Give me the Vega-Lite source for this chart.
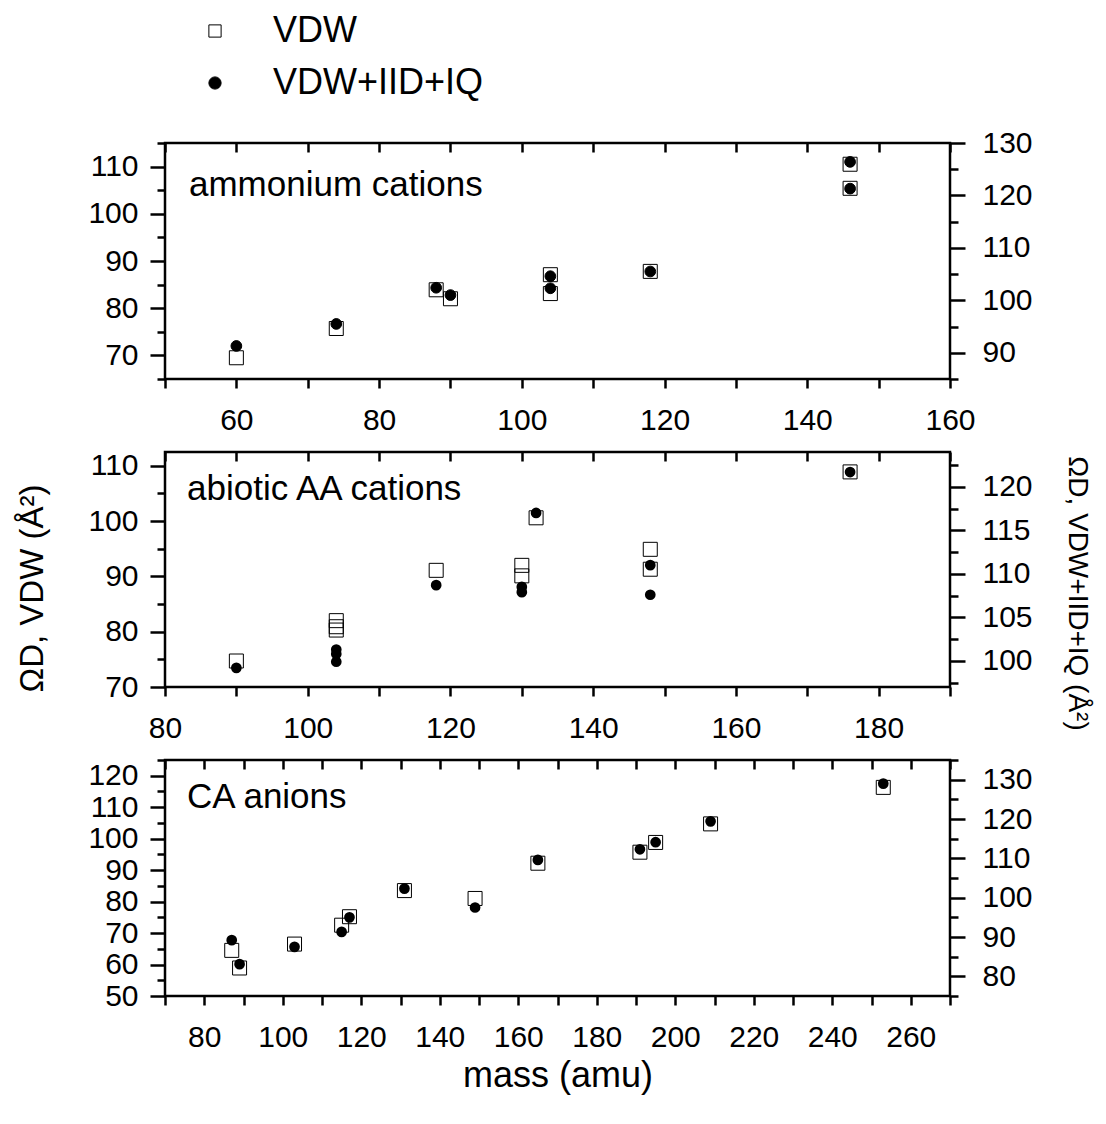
{
  "$schema": "https://vega.github.io/schema/vega-lite/v6.json",
  "background": "white",
  "autosize": {"type": "pad"},
  "padding": {"left": 15, "top": 13, "right": 10, "bottom": 10},
  "datasets": {
    "p1": [
      {"mass": 60, "series": "VDW", "omega": 69.5},
      {"mass": 74, "series": "VDW", "omega": 75.7},
      {"mass": 88, "series": "VDW", "omega": 83.9},
      {"mass": 90, "series": "VDW", "omega": 82.0},
      {"mass": 104, "series": "VDW", "omega": 87.1},
      {"mass": 104, "series": "VDW", "omega": 83.1},
      {"mass": 118, "series": "VDW", "omega": 87.8},
      {"mass": 146, "series": "VDW", "omega": 110.5},
      {"mass": 146, "series": "VDW", "omega": 105.4},
      {"mass": 60, "series": "VDW+IID+IQ", "omega": 91.3},
      {"mass": 74, "series": "VDW+IID+IQ", "omega": 95.5},
      {"mass": 88, "series": "VDW+IID+IQ", "omega": 102.4},
      {"mass": 90, "series": "VDW+IID+IQ", "omega": 101.0},
      {"mass": 104, "series": "VDW+IID+IQ", "omega": 104.6},
      {"mass": 104, "series": "VDW+IID+IQ", "omega": 102.3},
      {"mass": 118, "series": "VDW+IID+IQ", "omega": 105.5},
      {"mass": 146, "series": "VDW+IID+IQ", "omega": 126.4},
      {"mass": 146, "series": "VDW+IID+IQ", "omega": 121.3}
    ],
    "p2": [
      {"mass": 90, "series": "VDW", "omega": 74.7},
      {"mass": 104, "series": "VDW", "omega": 82.0},
      {"mass": 104, "series": "VDW", "omega": 80.9},
      {"mass": 104, "series": "VDW", "omega": 80.3},
      {"mass": 118, "series": "VDW", "omega": 91.1},
      {"mass": 130, "series": "VDW", "omega": 92.0},
      {"mass": 130, "series": "VDW", "omega": 90.1},
      {"mass": 132, "series": "VDW", "omega": 100.6},
      {"mass": 148, "series": "VDW", "omega": 94.9},
      {"mass": 148, "series": "VDW", "omega": 91.3},
      {"mass": 176, "series": "VDW", "omega": 108.9},
      {"mass": 90, "series": "VDW+IID+IQ", "omega": 99.2},
      {"mass": 104, "series": "VDW+IID+IQ", "omega": 101.3},
      {"mass": 104, "series": "VDW+IID+IQ", "omega": 100.8},
      {"mass": 104, "series": "VDW+IID+IQ", "omega": 99.9},
      {"mass": 118, "series": "VDW+IID+IQ", "omega": 108.7},
      {"mass": 130, "series": "VDW+IID+IQ", "omega": 108.5},
      {"mass": 130, "series": "VDW+IID+IQ", "omega": 107.9},
      {"mass": 132, "series": "VDW+IID+IQ", "omega": 117.0},
      {"mass": 148, "series": "VDW+IID+IQ", "omega": 111.0},
      {"mass": 148, "series": "VDW+IID+IQ", "omega": 107.6},
      {"mass": 176, "series": "VDW+IID+IQ", "omega": 121.7}
    ],
    "p3": [
      {"mass": 87, "series": "VDW", "omega": 64.5},
      {"mass": 89, "series": "VDW", "omega": 58.9},
      {"mass": 103, "series": "VDW", "omega": 66.5},
      {"mass": 115, "series": "VDW", "omega": 72.5},
      {"mass": 117, "series": "VDW", "omega": 75.2},
      {"mass": 131, "series": "VDW", "omega": 83.5},
      {"mass": 149, "series": "VDW", "omega": 81.0},
      {"mass": 165, "series": "VDW", "omega": 92.2},
      {"mass": 191, "series": "VDW", "omega": 95.7},
      {"mass": 195, "series": "VDW", "omega": 98.8},
      {"mass": 209, "series": "VDW", "omega": 104.7},
      {"mass": 253, "series": "VDW", "omega": 116.3},
      {"mass": 87, "series": "VDW+IID+IQ", "omega": 89.2},
      {"mass": 89, "series": "VDW+IID+IQ", "omega": 83.1},
      {"mass": 103, "series": "VDW+IID+IQ", "omega": 87.5},
      {"mass": 115, "series": "VDW+IID+IQ", "omega": 91.3},
      {"mass": 117, "series": "VDW+IID+IQ", "omega": 95.0},
      {"mass": 131, "series": "VDW+IID+IQ", "omega": 102.3},
      {"mass": 149, "series": "VDW+IID+IQ", "omega": 97.5},
      {"mass": 165, "series": "VDW+IID+IQ", "omega": 109.6},
      {"mass": 191, "series": "VDW+IID+IQ", "omega": 112.3},
      {"mass": 195, "series": "VDW+IID+IQ", "omega": 114.1},
      {"mass": 209, "series": "VDW+IID+IQ", "omega": 119.4},
      {"mass": 253, "series": "VDW+IID+IQ", "omega": 129.0}
    ]
  },
  "config": {
    "font": "Liberation Sans",
    "view": {"stroke": "black", "strokeWidth": 2.5},
    "axis": {
      "domain": false,
      "grid": false,
      "labelFont": "Liberation Sans",
      "labelFontSize": 30,
      "labelColor": "black",
      "tickColor": "black",
      "tickWidth": 2.5,
      "titleFont": "Liberation Sans",
      "titleFontWeight": "normal",
      "titleColor": "black",
      "labelFlush": false,
      "labelOverlap": false
    },
    "axisLeft": {"labelPadding": 12},
    "axisRight": {"labelPadding": 17},
    "axisBottom": {"labelPadding": 17},
    "legend": {
      "orient": "none",
      "legendX": 32,
      "legendY": -130,
      "padding": 0,
      "labelFont": "Liberation Sans",
      "labelFontSize": 36,
      "labelColor": "black",
      "labelLimit": 500,
      "labelOffset": 40,
      "rowPadding": 16,
      "symbolSize": 150,
      "symbolStrokeWidth": 1
    },
    "title": {"font": "Liberation Sans", "fontWeight": "normal", "color": "black", "fontSize": 35, "anchor": "start", "frame": "group"}
  },
  "spacing": 73,
  "bounds": "flush",
  "vconcat": [
    {
      "width": 785,
      "height": 236,
      "title": {"text": "ammonium cations", "offset": -75, "dx": 24},
      "resolve": {"scale": {"x": "independent", "y": "independent"}},
      "layer": [
        {
          "data": {"name": "p1"},
          "transform": [{"filter": "datum.series === 'VDW'"}],
          "mark": {"type": "point", "strokeWidth": 1, "size": 196, "opacity": 1},
          "encoding": {
            "x": {"field": "mass", "type": "quantitative", "scale": {"domain": [50, 160], "nice": false},
              "axis": {"orient": "bottom", "title": null, "values": [50,60,70,80,90,100,110,120,130,140,150,160],
                "labelExpr": "datum.value % 20 === 0 ? datum.label : ''", "tickSize": 9}},
            "y": {"field": "omega", "type": "quantitative", "scale": {"domain": [65, 115], "nice": false, "zero": false},
              "axis": {"orient": "left", "title": null, "values": [65,70,75,80,85,90,95,100,105,110,115],
                "labelExpr": "datum.value % 10 === 0 ? datum.label : ''",
                "tickSize": {"condition": {"test": "datum.value % 10 === 0", "value": 15}, "value": 8}}},
            "shape": {"field": "series", "type": "nominal", "scale": {"domain": ["VDW", "VDW+IID+IQ"], "range": ["square", "circle"]}, "legend": {"title": null}},
            "fill": {"field": "series", "type": "nominal", "scale": {"domain": ["VDW", "VDW+IID+IQ"], "range": ["transparent", "black"]}, "legend": {"title": null}},
            "stroke": {"field": "series", "type": "nominal", "scale": {"domain": ["VDW", "VDW+IID+IQ"], "range": ["black", "black"]}, "legend": {"title": null}}
          }
        },
        {
          "data": {"name": "p1"},
          "transform": [{"filter": "datum.series === 'VDW+IID+IQ'"}],
          "mark": {"type": "point", "strokeWidth": 1, "size": 115, "opacity": 1},
          "encoding": {
            "x": {"field": "mass", "type": "quantitative", "scale": {"domain": [50, 160], "nice": false},
              "axis": {"orient": "top", "title": null, "values": [50,60,70,80,90,100,110,120,130,140,150,160],
                "labels": false, "tickSize": -9}},
            "y": {"field": "omega", "type": "quantitative", "scale": {"domain": [85, 130], "nice": false, "zero": false},
              "axis": {"orient": "right", "title": null, "values": [85,90,95,100,105,110,115,120,125,130],
                "labelExpr": "datum.value % 10 === 0 ? datum.label : ''",
                "tickSize": {"condition": {"test": "datum.value % 10 === 0", "value": 15}, "value": 8}}},
            "shape": {"field": "series", "type": "nominal", "scale": {"domain": ["VDW", "VDW+IID+IQ"], "range": ["square", "circle"]}, "legend": {"title": null}},
            "fill": {"field": "series", "type": "nominal", "scale": {"domain": ["VDW", "VDW+IID+IQ"], "range": ["transparent", "black"]}, "legend": {"title": null}},
            "stroke": {"field": "series", "type": "nominal", "scale": {"domain": ["VDW", "VDW+IID+IQ"], "range": ["black", "black"]}, "legend": {"title": null}}
          }
        }
      ]
    },
    {
      "width": 785,
      "height": 235,
      "title": {"text": "abiotic AA cations", "offset": -57, "dx": 22},
      "resolve": {"scale": {"x": "independent", "y": "independent"}},
      "layer": [
        {
          "data": {"name": "p2"},
          "transform": [{"filter": "datum.series === 'VDW'"}],
          "mark": {"type": "point", "shape": "square", "filled": false, "stroke": "black", "strokeWidth": 1, "size": 196, "opacity": 1},
          "encoding": {
            "x": {"field": "mass", "type": "quantitative", "scale": {"domain": [80, 190], "nice": false},
              "axis": {"orient": "bottom", "title": null, "values": [80,90,100,110,120,130,140,150,160,170,180,190],
                "labelExpr": "datum.value % 20 === 0 ? datum.label : ''", "tickSize": 9}},
            "y": {"field": "omega", "type": "quantitative", "scale": {"domain": [70, 112.5], "nice": false, "zero": false},
              "axis": {"orient": "left", "title": "ΩD, VDW (Å²)", "titleFontSize": 33, "titlePadding": 38, "titleY": 136,
                "values": [70,75,80,85,90,95,100,105,110],
                "labelExpr": "datum.value % 10 === 0 ? datum.label : ''",
                "tickSize": {"condition": {"test": "datum.value % 10 === 0", "value": 15}, "value": 8}}}
          }
        },
        {
          "data": {"name": "p2"},
          "transform": [{"filter": "datum.series === 'VDW+IID+IQ'"}],
          "mark": {"type": "point", "shape": "circle", "filled": true, "color": "black", "size": 115, "opacity": 1},
          "encoding": {
            "x": {"field": "mass", "type": "quantitative", "scale": {"domain": [80, 190], "nice": false},
              "axis": {"orient": "top", "title": null, "values": [80,90,100,110,120,130,140,150,160,170,180,190],
                "labels": false, "tickSize": -9}},
            "y": {"field": "omega", "type": "quantitative", "scale": {"domain": [97, 124], "nice": false, "zero": false},
              "axis": {"orient": "right", "title": "ΩD, VDW+IID+IQ (Å²)", "titleFontSize": 28, "titlePadding": 30, "titleY": 141,
                "values": [97.5,100,102.5,105,107.5,110,112.5,115,117.5,120,122.5],
                "labelExpr": "datum.value % 5 === 0 ? datum.label : ''",
                "tickSize": {"condition": {"test": "datum.value % 5 === 0", "value": 15}, "value": 8}}}
          }
        }
      ]
    },
    {
      "width": 785,
      "height": 236,
      "title": {"text": "CA anions", "offset": -70, "dx": 22},
      "resolve": {"scale": {"x": "independent", "y": "independent"}},
      "layer": [
        {
          "data": {"name": "p3"},
          "transform": [{"filter": "datum.series === 'VDW'"}],
          "mark": {"type": "point", "shape": "square", "filled": false, "stroke": "black", "strokeWidth": 1, "size": 196, "opacity": 1},
          "encoding": {
            "x": {"field": "mass", "type": "quantitative", "scale": {"domain": [70, 270], "nice": false},
              "axis": {"orient": "bottom", "title": "mass (amu)", "titleFontSize": 36, "titlePadding": 6,
                "values": [70,80,90,100,110,120,130,140,150,160,170,180,190,200,210,220,230,240,250,260,270],
                "labelExpr": "datum.value % 20 === 0 ? datum.label : ''", "tickSize": 9}},
            "y": {"field": "omega", "type": "quantitative", "scale": {"domain": [50, 125], "nice": false, "zero": false},
              "axis": {"orient": "left", "title": null, "values": [50,55,60,65,70,75,80,85,90,95,100,105,110,115,120,125],
                "labelExpr": "datum.value % 10 === 0 && datum.value < 125 ? datum.label : ''",
                "tickSize": {"condition": {"test": "datum.value % 10 === 0", "value": 15}, "value": 8}}}
          }
        },
        {
          "data": {"name": "p3"},
          "transform": [{"filter": "datum.series === 'VDW+IID+IQ'"}],
          "mark": {"type": "point", "shape": "circle", "filled": true, "color": "black", "size": 115, "opacity": 1},
          "encoding": {
            "x": {"field": "mass", "type": "quantitative", "scale": {"domain": [70, 270], "nice": false},
              "axis": {"orient": "top", "title": null,
                "values": [70,80,90,100,110,120,130,140,150,160,170,180,190,200,210,220,230,240,250,260,270],
                "labels": false, "tickSize": -9}},
            "y": {"field": "omega", "type": "quantitative", "scale": {"domain": [75, 135], "nice": false, "zero": false},
              "axis": {"orient": "right", "title": null, "values": [75,80,85,90,95,100,105,110,115,120,125,130,135],
                "labelExpr": "datum.value % 10 === 0 && datum.value < 135 && datum.value > 75 ? datum.label : ''",
                "tickSize": {"condition": {"test": "datum.value % 10 === 0", "value": 15}, "value": 8}}}
          }
        }
      ]
    }
  ]
}
